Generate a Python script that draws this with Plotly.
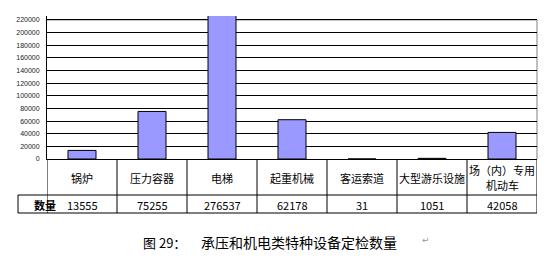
import plotly.graph_objects as go

# Equipment categories and inspected counts
categories = ["锅炉", "压力容器", "电梯", "起重机械", "客运索道", "大型游乐设施", "场（内）专用<br>机动车"]
counts = [13555, 75255, 276537, 62178, 31, 1051, 42058]
count_labels = ["13555", "75255", "276537", "62178", "31", "1051", "42058"]
y_ticks = list(range(0, 220001, 20000))
row_header = "数量"
caption_no = "图 29："
caption_text = "承压和机电类特种设备定检数量"

W, H = 551, 259
L, R, T, B = 47, 14, 16, 100
plot_h = H - T - B
y_max = 226300

def py(y_pix):
    # pixel row -> paper y
    return (H - B - y_pix) / plot_h

def px(x_pix):
    return (x_pix - L) / (W - L - R)

CJK = "Noto Sans CJK SC"

fig = go.Figure(go.Bar(
    x=categories, y=counts, width=0.4,
    marker=dict(color="#9999FF", line=dict(color="black", width=1)),
    hoverinfo="skip",
))

shapes = []
annotations = []

# plot border (grey top and right edge)
shapes.append(dict(type="line", xref="paper", yref="y", x0=0, x1=1, y0=220000, y1=220000,
                   line=dict(color="#808080", width=1), layer="between"))
shapes.append(dict(type="line", xref="paper", yref="y", x0=1, x1=1, y0=0, y1=220000,
                   line=dict(color="#808080", width=1), layer="between"))

# data table grid
row1_bottom = 195
row2_bottom = 213
n = len(categories)
for i in range(n + 1):
    shapes.append(dict(type="line", xref="x", yref="paper", x0=i - 0.5, x1=i - 0.5,
                       y0=0, y1=py(row2_bottom), line=dict(color="black", width=1)))
shapes.append(dict(type="line", xref="paper", yref="paper", x0=px(18), x1=1,
                   y0=py(row1_bottom), y1=py(row1_bottom), line=dict(color="black", width=1)))
shapes.append(dict(type="line", xref="paper", yref="paper", x0=px(18), x1=1,
                   y0=py(row2_bottom), y1=py(row2_bottom), line=dict(color="black", width=1)))
shapes.append(dict(type="line", xref="paper", yref="paper", x0=px(18), x1=px(18),
                   y0=py(row1_bottom), y1=py(row2_bottom), line=dict(color="black", width=1)))

line_step = 15
for c, lab in zip(categories, count_labels):
    lines = c.split("<br>")
    first = 177.5 - line_step * (len(lines) - 1) / 2
    for k, part in enumerate(lines):
        annotations.append(dict(x=c, xref="x", y=py(first + k * line_step), yref="paper", text=part,
                                showarrow=False, font=dict(family=CJK, size=11, color="black"),
                                yanchor="middle"))
    annotations.append(dict(x=c, xref="x", y=py(204.5), yref="paper", text=lab, showarrow=False,
                            font=dict(family=CJK, size=11, color="black"), yanchor="middle"))
annotations.append(dict(x=px(32), xref="paper", y=py(204.5), yref="paper", text="<b>" + row_header + "</b>",
                        showarrow=False, font=dict(family=CJK, size=11, color="black"), yanchor="middle"))

# caption
annotations.append(dict(x=px(141), xref="paper", y=py(242), yref="paper", text=caption_no, showarrow=False,
                        xanchor="left", yanchor="middle", font=dict(family=CJK, size=13, color="black")))
annotations.append(dict(x=px(199), xref="paper", y=py(242), yref="paper", text=caption_text, showarrow=False,
                        xanchor="left", yanchor="middle", font=dict(family=CJK, size=14, color="black")))
annotations.append(dict(x=px(420), xref="paper", y=py(240), yref="paper", text="↵", showarrow=False,
                        xanchor="left", yanchor="middle", font=dict(family="DejaVu Sans", size=9, color="#999999")))

fig.update_layout(
    width=W, height=H,
    margin=dict(l=L, r=R, t=T, b=B, pad=0),
    paper_bgcolor="white", plot_bgcolor="white",
    showlegend=False,
    bargap=0.6,
    xaxis=dict(range=[-0.5, n - 0.5], showticklabels=False, showgrid=False, zeroline=False,
               showline=True, linecolor="black", linewidth=1, ticks=""),
    yaxis=dict(range=[0, y_max], tickvals=y_ticks, ticktext=[str(v) for v in y_ticks],
               showgrid=True, gridcolor="black", gridwidth=1, zeroline=False,
               showline=True, linecolor="black", linewidth=1, ticks="",
               ticklabelstandoff=5,
               tickfont=dict(family="Liberation Sans", size=7, color="#222222")),
    shapes=shapes,
    annotations=annotations,
)

fig.write_html("out.html")
